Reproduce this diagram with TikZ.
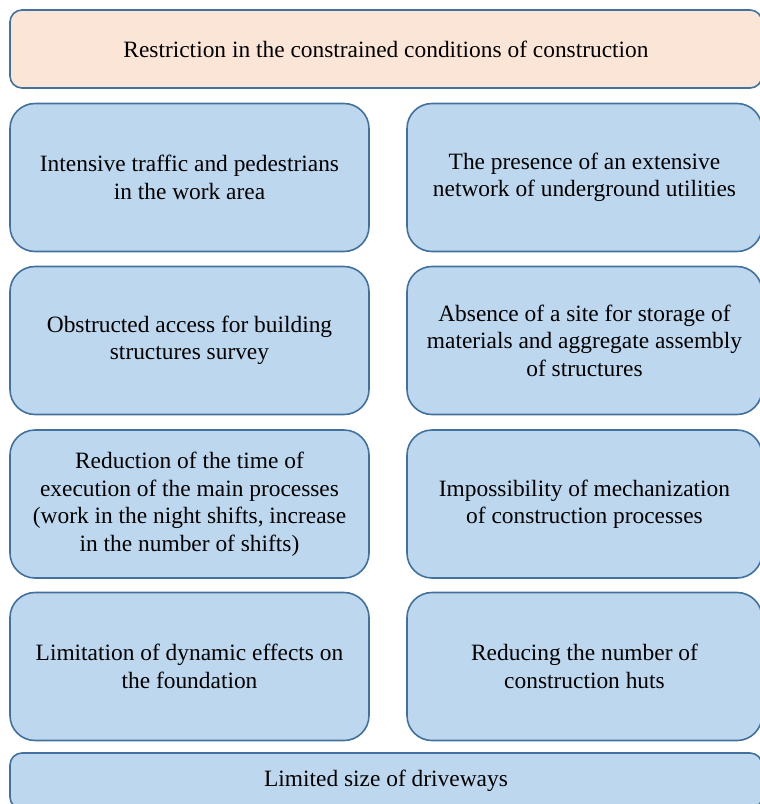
\documentclass[tikz,border=0pt]{standalone}
\usepackage{fontspec}
\setmainfont{Liberation Serif}
\definecolor{edgeblue}{HTML}{41719C}
\definecolor{boxblue}{HTML}{BDD7EE}
\definecolor{boxpeach}{HTML}{FBE5D6}
\tikzset{
  cell/.style={draw=edgeblue, fill=boxblue, line width=1.6pt, rounded corners=25pt,
    inner sep=0pt, align=center, font=\fontsize{23.4}{27.5}\selectfont},
  leftcell/.style={cell, minimum width=359pt, minimum height=148pt},
  rightcell/.style={cell, minimum width=355pt, minimum height=148pt},
  headcell/.style={cell, fill=boxpeach, rounded corners=12pt, minimum width=752pt, minimum height=78pt}
}
\begin{document}
\begin{tikzpicture}[x=1pt, y=-1pt]
          \useasboundingbox (0, 0) rectangle (760, 804);
          \clip (0, 0) rectangle (760, 804);
          \node [headcell] (head) at (386, 49) {Restriction in the constrained conditions of construction};
          \node [leftcell] (traffic) at (189.5, 177.5) {Intensive traffic and pedestrians\\in the work area};
          \node [rightcell] (utilities) at (584.5, 177.5) {The presence of an extensive\\network of underground utilities};
          \node [leftcell] (access) at (189.5, 340.5) {Obstructed access for building\\structures survey};
          \node [rightcell] (storage) at (584.5, 340.5) {Absence of a site for storage of\\materials and aggregate assembly\\of structures};
          \node [leftcell] (timing) at (189.5, 504) {Reduction of the time of\\execution of the main processes\\(work in the night shifts, increase\\in the number of shifts)};
          \node [rightcell] (mechan) at (584.5, 504) {Impossibility of mechanization\\of construction processes};
          \node [leftcell] (dynamic) at (189.5, 666.5) {Limitation of dynamic effects on\\the foundation};
          \node [rightcell] (huts) at (584.5, 666.5) {Reducing the number of\\construction huts};
          \node [cell, rounded corners=12pt, minimum width=752pt, minimum height=56pt] (drive) at (386, 781) {Limited size of driveways};
        \end{tikzpicture}
\end{document}
